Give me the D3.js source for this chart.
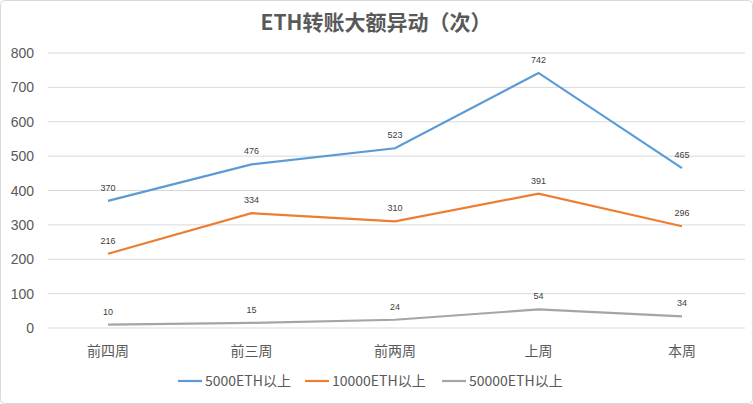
<!DOCTYPE html>
<html><head><meta charset="utf-8">
<script src="https://cdn.jsdelivr.net/npm/d3@7"></script>
<style>body{margin:0;background:#fff;font-family:"Noto Sans CJK SC","Noto Sans",sans-serif}</style>
</head><body><svg id="c" width="753" height="404"></svg>
<script>
const categories = ["前四周","前三周","前两周","上周","本周"];
const seriesNames = ["5000ETH以上","10000ETH以上","50000ETH以上"];
const s5000 = [370,476,523,742,465];
const s10000 = [216,334,310,391,296];
const s50000 = [10,15,24,54,34];
const yTicks = [0,100,200,300,400,500,600,700,800];
const colors = ["#5b9bd5","#ed7d31","#a5a5a5"];
const series = [s5000,s10000,s50000];

const svg = d3.select("#c");
svg.append("rect").attr("x",0.5).attr("y",0.5).attr("width",752).attr("height",403).attr("rx",4)
  .attr("fill","#fff").attr("stroke","#d9d9d9");
svg.append("text").attr("x",376).attr("y",30).attr("text-anchor","middle")
  .attr("font-size",21).attr("font-weight","bold").attr("fill","#595959").text("ETH转账大额异动（次）");

const x = d3.scalePoint().domain(categories).range([108,682]);
const y = d3.scaleLinear().domain([0,800]).range([328,53]);

svg.append("g").selectAll("line").data(yTicks).join("line")
  .attr("x1",48).attr("x2",745).attr("y1",d=>y(d)).attr("y2",d=>y(d))
  .attr("stroke","#d9d9d9");
svg.append("g").selectAll("text").data(yTicks).join("text")
  .attr("x",34).attr("y",d=>y(d)+5).attr("text-anchor","end")
  .attr("font-size",14).attr("fill","#595959").attr("font-family","Liberation Sans, sans-serif").text(d=>d);
svg.append("g").selectAll("text").data(categories).join("text")
  .attr("x",d=>x(d)).attr("y",356).attr("text-anchor","middle")
  .attr("font-size",14).attr("fill","#595959").text(d=>d);

const line = d3.line().x((d,i)=>x(categories[i])).y(d=>y(d));
series.forEach((s,k)=>{
  svg.append("path").datum(s).attr("d",line).attr("fill","none")
    .attr("stroke",colors[k]).attr("stroke-width",2.2);
  svg.append("g").selectAll("text").data(s).join("text")
    .attr("x",(d,i)=>x(categories[i])).attr("y",d=>y(d)-10).attr("text-anchor","middle")
    .attr("font-size",9).attr("fill","#404040").attr("font-family","Liberation Sans, sans-serif").text(d=>d);
});

const lx = [178,305,442];
seriesNames.forEach((n,k)=>{
  const g = svg.append("g");
  g.append("line").attr("x1",lx[k]).attr("x2",lx[k]+24).attr("y1",381).attr("y2",381)
    .attr("stroke",colors[k]).attr("stroke-width",2.2);
  g.append("text").attr("x",lx[k]+27).attr("y",386).attr("font-size",14).attr("fill","#595959").text(n);
});
</script></body></html>
